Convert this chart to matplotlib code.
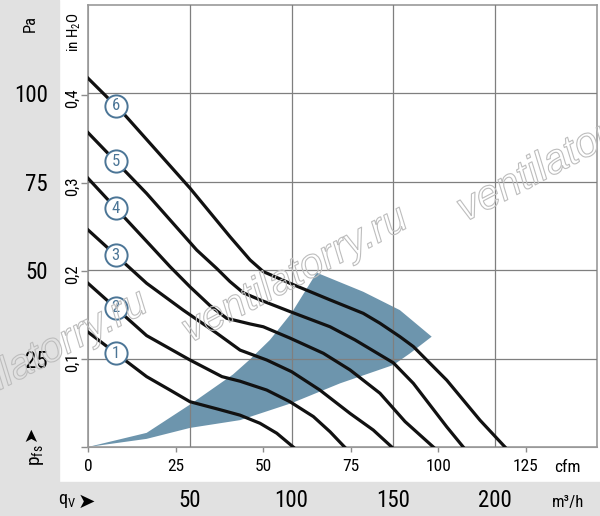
import numpy as np
import matplotlib.pyplot as plt
from matplotlib import patheffects, font_manager
from matplotlib.patches import Rectangle

# pick a narrow face if one is installed
fonts = font_manager.fontManager.ttflist
names = {f.name for f in fonts}
narrow = None
for n in ['Liberation Sans Narrow', 'Roboto Condensed', 'Open Sans Condensed', 'Noto Sans Condensed']:
    if n in names:
        narrow = n
        break
if narrow is None:
    narrow = 'Liberation Sans'
    if any(f.name == 'DejaVu Sans' and f.stretch == 'condensed' for f in fonts):
        narrow = 'DejaVu Sans'
        plt.rcParams['font.stretch'] = 'condensed'
plt.rcParams['font.family'] = [narrow, 'DejaVu Sans']
plt.rcParams['mathtext.default'] = 'regular'

# fan curves: flow in m3/h, static pressure in Pa
flow_1 = [0, 28.8, 40.3, 50.1, 63.9, 74.7, 84.5, 92.7, 100.8]
pres_1 = [32.5, 19.9, 16.1, 12.8, 10.7, 9.0, 6.7, 3.9, 0]
flow_2 = [0, 28.8, 50.1, 65.8, 74.7, 87.8, 99.2, 110.7, 118.9, 126.0]
pres_2 = [46.3, 31.5, 24.6, 19.9, 18.6, 16.1, 12.8, 8.6, 4.3, 0]
flow_3 = [0, 28.8, 46.8, 63.2, 74.7, 87.8, 100.0, 113.9, 128.7, 140.1, 149.2]
pres_3 = [61.4, 46.3, 38.7, 32.2, 27.4, 24.6, 21.3, 16.1, 9.5, 4.8, 0]
flow_4 = [0, 30.5, 40.3, 50.1, 59.9, 68.1, 79.6, 86.1, 99.2, 115.6, 128.7, 143.4, 155.7, 169.6]
pres_4 = [76.0, 57.1, 51.0, 45.3, 40.0, 36.4, 34.8, 34.0, 30.8, 26.5, 21.8, 15.2, 7.2, 0]
flow_5 = [0, 28.8, 53.4, 63.2, 69.7, 76.3, 84.5, 99.2, 118.9, 131.1, 150.0, 159.8, 176.2, 184.3]
pres_5 = [88.9, 71.7, 55.7, 50.5, 46.8, 43.6, 41.6, 38.3, 34.0, 30.3, 23.8, 18.0, 5.7, 0]
flow_6 = [0, 17.3, 50.1, 69.7, 79.6, 86.1, 99.2, 118.9, 135.2, 143.4, 153.2, 159.8, 176.2, 192.5, 204.8]
pres_6 = [104.3, 94.4, 73.2, 59.5, 52.9, 49.6, 46.3, 41.6, 37.8, 35.0, 31.2, 28.4, 18.9, 7.6, 0]

# operating zone outline
zone_q = [0, 28.8, 50.1, 71.2, 79.6, 89.4, 100.0, 112.3, 135.2, 153.2, 168.8,
          158.2, 150.0, 123.8, 100.0, 74.7, 50.1, 28.8, 0]
zone_p = [0, 4.0, 12.0, 20.5, 24.8, 30.3, 37.9, 49.3, 43.9, 38.7, 31.2,
          26.5, 23.2, 18.0, 12.4, 7.6, 5.4, 2.3, 0]

m3h_ticks = [50, 100, 150, 200]
pa_ticks = [25, 50, 75, 100]
cfm_ticks = [0, 25, 50, 75, 100, 125]
inh2o_ticks = [0, 0.1, 0.2, 0.3, 0.4]
inh2o_labels = ['', '0,1', '0,2', '0,3', '0,4']

M3H_PER_CFM = 1.72
PA_PER_INH2O = 249.09

W, H = 600, 516
fig = plt.figure(figsize=(6, 5.16), dpi=100)

def fx(px):
    return px / W

def fy(py):
    return 1 - py / H

grey = '#e1e1e1'
fig.patches.append(Rectangle((0, fy(482)), fx(59), 1 - fy(482), transform=fig.transFigure,
                             color=grey, zorder=-5))
fig.patches.append(Rectangle((0, 0), 1, fy(482), transform=fig.transFigure, color=grey, zorder=-5))

ax = fig.add_axes([fx(88), fy(447), fx(597) - fx(88), fy(5) - fy(447)])
ax.set_xlim(0, 250)
ax.set_ylim(0, 125)
ax.set_xticks(m3h_ticks, [str(t) for t in m3h_ticks])
ax.set_yticks(pa_ticks, [str(t) for t in pa_ticks])
ax.set_axisbelow(False)
ax.grid(True, color='#7f7f7f', lw=0.9)
ax.tick_params(length=0, labelsize=16.5)
ax.tick_params(axis='x', pad=30)
ax.tick_params(axis='y', pad=29)
for s in ax.spines.values():
    s.set_color('#999999')
    s.set_linewidth(1.2)

ax.fill(zone_q, zone_p, color='#6d95ad', lw=0, zorder=1)

curves = [(flow_1, pres_1), (flow_2, pres_2), (flow_3, pres_3),
          (flow_4, pres_4), (flow_5, pres_5), (flow_6, pres_6)]
label_q = 13.6
for i, (q, p) in enumerate(curves, start=1):
    ax.plot(q, p, color='#111111', lw=2.3, zorder=3, solid_joinstyle='round')
    ly = np.interp(label_q, q, p)
    ax.plot(label_q, ly, 'o', ms=16, mfc='white', mec='#4b7596', mew=1.4, zorder=5)
    ax.text(label_q, ly, str(i), ha='center', va='center', fontsize=12,
            color='#4b7596', zorder=6)

sec_y = ax.secondary_yaxis('left', functions=(lambda p: p / PA_PER_INH2O,
                                              lambda w: w * PA_PER_INH2O))
sec_y.set_yticks(inh2o_ticks, inh2o_labels)
sec_y.tick_params(length=5, width=1, color='#8c8c8c', pad=1, labelsize=12, labelrotation=90)
for s in sec_y.spines.values():
    s.set_color('#999999')

sec_x = ax.secondary_xaxis('bottom', functions=(lambda q: q / M3H_PER_CFM,
                                                lambda c: c * M3H_PER_CFM))
sec_x.set_xticks(cfm_ticks, [str(t) for t in cfm_ticks])
sec_x.tick_params(length=3.6, width=1, color='#8c8c8c', pad=5, labelsize=12.5)
for s in sec_x.spines.values():
    s.set_color('#999999')

fig.text(fx(567), fy(468), 'cfm', ha='center', va='center', fontsize=12.5)
fig.text(fx(568), fy(503), 'm³/h', ha='center', va='center', fontsize=12)
fig.text(fx(30), fy(24), 'Pa', rotation=90, ha='center', va='center', fontsize=12)
fig.text(fx(74), fy(32), 'in H$_2$O', rotation=90, ha='center', va='center', fontsize=11)
fig.text(fx(37), fy(455), 'p$_{fs}$', rotation=90, ha='center', va='center', fontsize=14)
fig.text(fx(31), fy(433), '➤', rotation=90, ha='center', va='center', fontsize=13,
         family='DejaVu Sans')
fig.text(fx(67), fy(501), 'q$_V$', ha='center', va='center', fontsize=13)
fig.text(fx(86), fy(502), '➤', ha='center', va='center', fontsize=15, family='DejaVu Sans')

# watermark
for cx, cy in [(35, 359), (295, 275), (570, 154)]:
    fig.text(fx(cx), fy(cy), 'ventilatorry.ru', rotation=28, rotation_mode='anchor',
             ha='center', va='center', fontsize=30, style='italic',
             family='Liberation Sans', color=(1, 1, 1, 0), zorder=10,
             path_effects=[patheffects.Stroke(linewidth=0.8, foreground='#bdbdbd')])

fig.savefig('out.png', dpi=100)
